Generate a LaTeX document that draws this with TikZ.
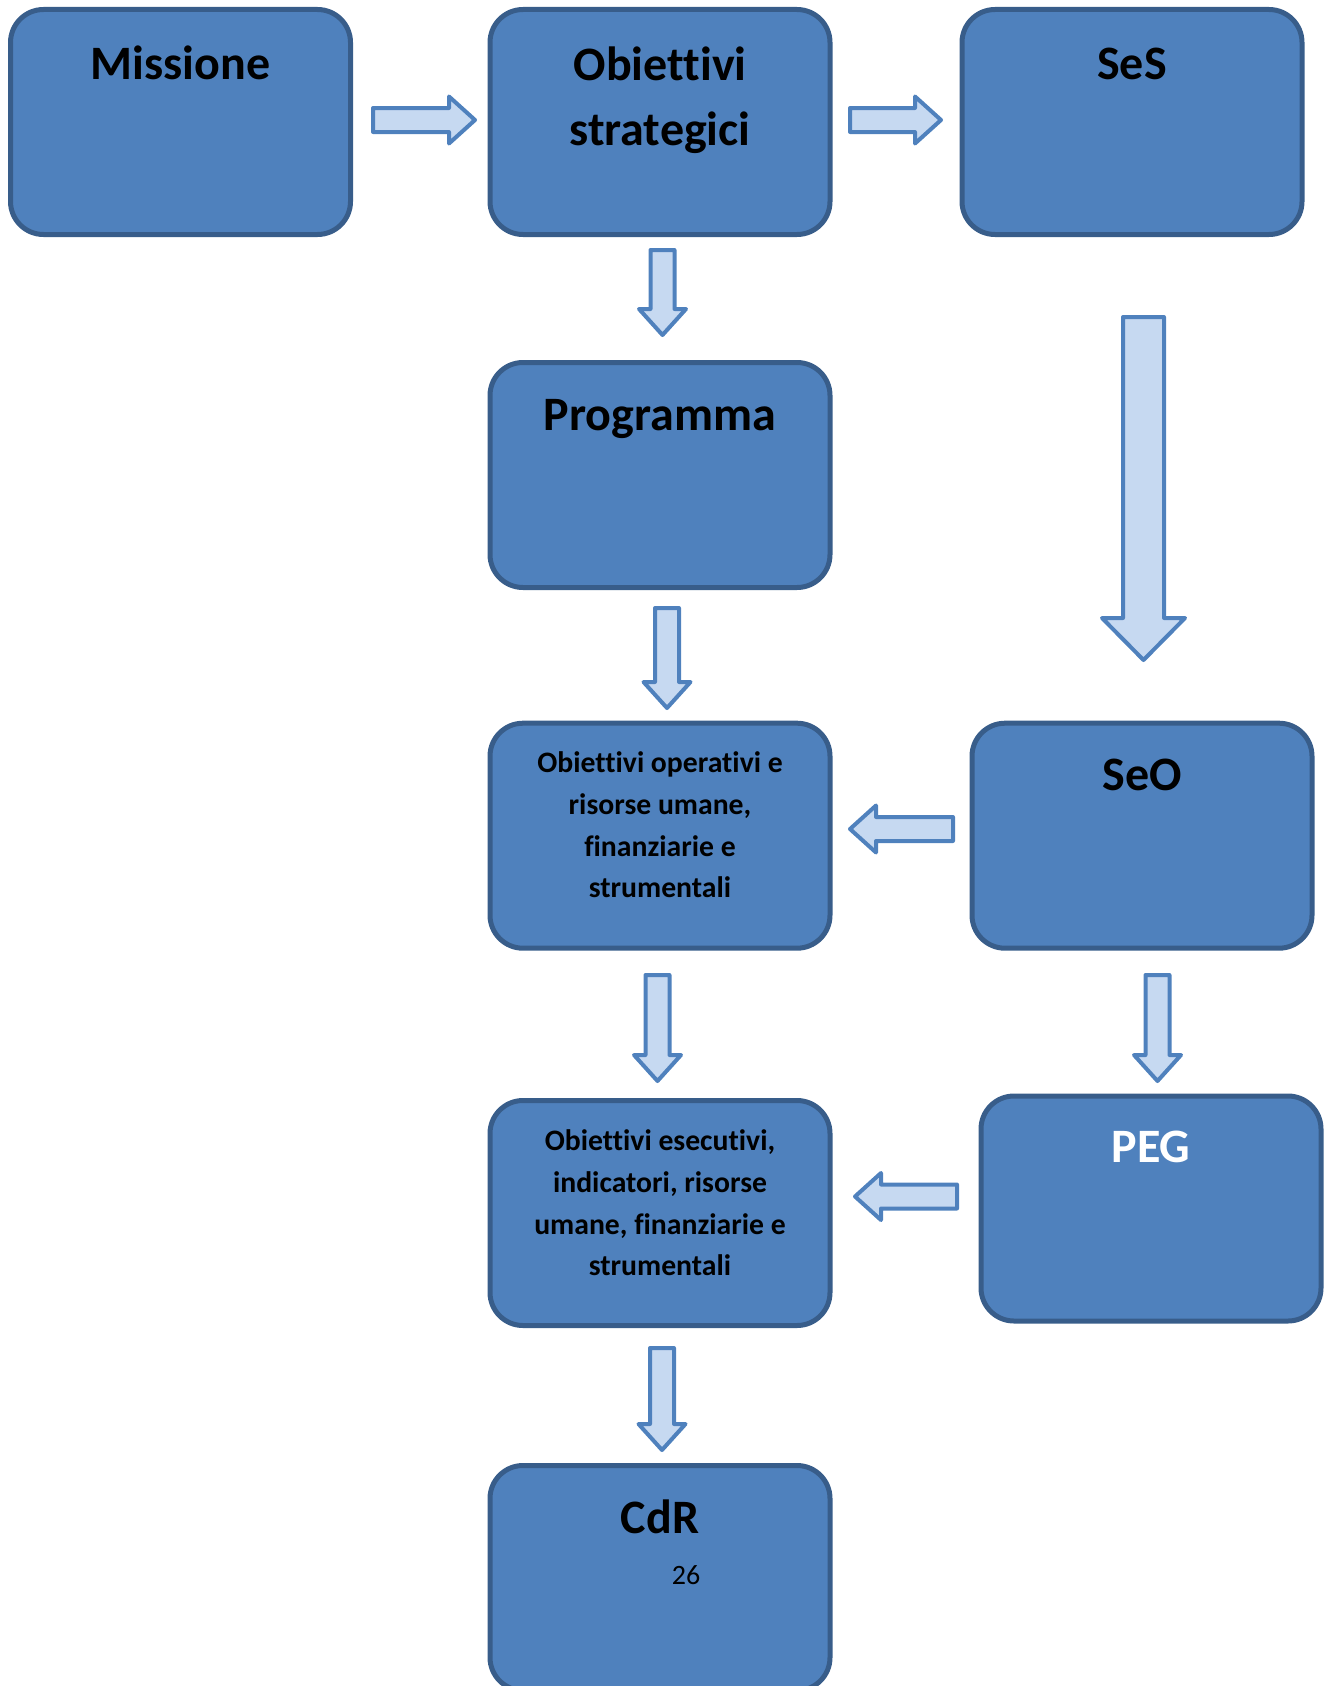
\documentclass[tikz,border=0pt]{standalone}
\usepackage{fontspec}
\setmainfont{Carlito}[Ligatures=NoCommon]
\usepackage{xcolor}
\usetikzlibrary{calc}

\definecolor{boxblue}{HTML}{4F81BD}
\definecolor{boxline}{HTML}{385D8A}
\definecolor{arrfill}{HTML}{C6D9F1}
\definecolor{arrline}{HTML}{4F81BD}

% block arrow: tail, tip, shaft half width, head half width, head length
\newcommand{\blockarrow}[5]{%
  \coordinate (ha) at ($(#2)!#5!(#1)$);
  \draw[blkarrow] ($(#1)!#3!90:(#2)$) -- ($(ha)!#3!90:(#2)$) -- ($(ha)!#4!90:(#2)$)
    -- (#2) -- ($(ha)!#4!-90:(#2)$) -- ($(ha)!#3!-90:(#2)$) -- ($(#1)!#3!-90:(#2)$) -- cycle;
}

\begin{document}
\begin{tikzpicture}[
    x=1pt, y=-1pt,
    box/.style={draw=boxline, fill=boxblue, line width=5pt, rounded corners=33pt,
                minimum width=340pt, minimum height=225pt, inner sep=0pt},
    ttl/.style={font=\fontsize{48}{65.6}\selectfont\bfseries, align=center, anchor=base, inner sep=0pt},
    txt/.style={font=\fontsize{29.7}{41.6}\selectfont\bfseries, align=center, anchor=base, inner sep=0pt},
    blkarrow/.style={draw=arrline, fill=arrfill, line width=4pt, line join=round},
]

\useasboundingbox (0,0) rectangle (1324,1686);

% Boxes
\node[box] (mis)  at (180.5,122) {};
\node[box] (obs)  at (660,122) {};
\node[box] (ses)  at (1132,122) {};
\node[box] (prog) at (660,475) {};
\node[box] (oper) at (660,835.7) {};
\node[box] (seo)  at (1142,835.7) {};
\node[box] (esec) at (660,1213) {};
\node[box] (peg)  at (1151,1208.5) {};
\node[box] (cdr)  at (660,1578) {};

% Box texts (base = last line)
\node[ttl] (mis-t)  at ($(mis.north)+(0,73)$) {Missione};
\node[ttl] (obs-t)  at ($(obs.north)+(0,138.6)$) {Obiettivi\\strategici};
\node[ttl] (ses-t)  at ($(ses.north)+(0,73)$) {SeS};
\node[ttl] (prog-t) at ($(prog.north)+(0,70)$) {Programma};
\node[ttl] (seo-t)  at ($(seo.north)+(0,70)$) {SeO};
\node[ttl, text=white] (peg-t) at ($(peg.north)+(0,69)$) {PEG};
\node[ttl] (cdr-t)  at ($(cdr.north)+(0,70)$) {CdR};
\node[txt] (oper-t) at ($(oper.north)+(0,177)$) {Obiettivi operativi e\\risorse umane,\\finanziarie e\\strumentali};
\node[txt] (esec-t) at ($(esec.north)+(0,177.7)$) {Obiettivi esecutivi,\\indicatori, risorse\\umane, finanziarie e\\strumentali};
\node[anchor=base, inner sep=0pt, font=\fontsize{28}{34}\selectfont] (pagenum) at ($(cdr.north)+(26,121)$) {26};

% Arrow ends
\coordinate (a1t) at ($(mis.east)+(20,-2)$);
\coordinate (a1h) at ($(obs.west)+(-12.5,-2)$);
\coordinate (a2t) at ($(obs.east)+(17.5,-2)$);
\coordinate (a2h) at ($(ses.west)+(-18.5,-2)$);
\coordinate (a3t) at ($(obs.south)+(2.5,13)$);
\coordinate (a3h) at ($(prog.north)+(2.5,-25)$);
\coordinate (a4t) at ($(ses.south)+(11.5,80)$);
\coordinate (a4h) at ($(seo.north)+(1.5,-60.7)$);
\coordinate (a5t) at ($(prog.south)+(7,18)$);
\coordinate (a5h) at ($(oper.north)+(7,-12.7)$);
\coordinate (a6t) at ($(oper.south)+(-2.5,24.3)$);
\coordinate (a6h) at ($(esec.north)+(-2.5,-17)$);
\coordinate (a7t) at ($(seo.south)+(15.5,24.3)$);
\coordinate (a7h) at ($(peg.north)+(6.5,-12.5)$);
\coordinate (a8t) at ($(seo.west)+(-16.5,-6.7)$);
\coordinate (a8h) at ($(oper.east)+(17.5,-6.7)$);
\coordinate (a9t) at ($(peg.west)+(-21.5,-12)$);
\coordinate (a9h) at ($(esec.east)+(22.5,-16.5)$);
\coordinate (a10t) at ($(esec.south)+(2,20)$);
\coordinate (a10h) at ($(cdr.north)+(2,-13)$);

% Block arrows
\foreach \n in {1,2,3,5,6,7,8,9,10} {
    \blockarrow{a\n t}{a\n h}{12pt}{23.5pt}{26pt}
}
\blockarrow{a4t}{a4h}{20.5pt}{41.5pt}{42pt}

\end{tikzpicture}
\end{document}
